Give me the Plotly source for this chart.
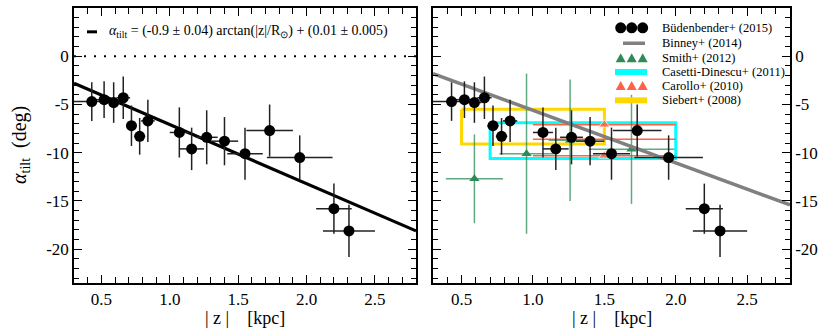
"""Disc tilt angle vs height above the plane: fit (left) and literature comparison (right)."""

import plotly.graph_objects as go

# Büdenbender+ (2015) measurements
z_kpc = [0.43, 0.52, 0.59, 0.66, 0.72, 0.78, 0.84, 1.07, 1.16, 1.27, 1.40, 1.55, 1.73, 1.95, 2.20, 2.31]
z_err = [0.13, 0.06, 0.05, 0.05, 0.04, 0.04, 0.05, 0.07, 0.09, 0.08, 0.10, 0.13, 0.17, 0.24, 0.13, 0.19]
alpha_tilt = [-4.7, -4.5, -4.8, -4.3, -7.2, -8.3, -6.7, -7.9, -9.6, -8.4, -8.8, -10.1, -7.7, -10.5, -15.8, -18.1]
alpha_err = [2.0, 1.9, 2.1, 2.2, 2.1, 1.9, 2.2, 2.6, 2.2, 2.8, 2.5, 2.7, 2.7, 2.3, 2.6, 2.7]

# fitted arctan relation (left panel)
fit_z = [0.3, 2.8]
fit_alpha = [-2.8, -18.1]

# Binney+ (2014)
binney_z = [0.3, 2.8]
binney_alpha = [-1.8, -15.4]

# Smith+ (2012)
smith_z = [0.59, 0.955, 1.26, 1.69]
smith_z_err = [0.2, 0.19, 0.15, 0.3]
smith_alpha = [-12.7, -10.1, -8.7, -9.65]
smith_alpha_err = [4.6, 8.3, 6.3, 5.65]

# Casetti-Dinescu+ (2011): z range and alpha range
casetti_z = [0.7, 2.0]
casetti_alpha = [-6.9, -10.6]

# Carollo+ (2010)
carollo_z = [1.5, 1.5, 1.5]
carollo_z_err = [0.5, 0.5, 0.5]
carollo_alpha = [-7.1, -8.6, -10.3]

# Siebert+ (2008): z range and alpha range
siebert_z = [0.5, 1.5]
siebert_alpha = [-5.5, -9.1]

# axes
x_ticks = [0.5, 1.0, 1.5, 2.0, 2.5]
x_ticktext = ['0.5', '1.0', '1.5', '2.0', '2.5']
y_ticks = [5, 0, -5, -10, -15, -20]
y_ticktext = ['5', '0', '-5', '-10', '-15', '-20']

legend_labels = ['Büdenbender+ (2015)', 'Binney+ (2014)', 'Smith+ (2012)',
                 'Casetti-Dinescu+ (2011)', 'Carollo+ (2010)', 'Siebert+ (2008)']

FONT = 'Liberation Serif, Times New Roman, serif'
W, H = 832, 333
L, R, T, B = 74, 42, 6, 50
PW, PH = W - L - R, H - T - B


def px_x(px):
    return (px - L) / PW


def px_y(py):
    return (H - B - py) / PH


def box(zr, ar):
    return [zr[0], zr[1], zr[1], zr[0], zr[0]], [ar[0], ar[0], ar[1], ar[1], ar[0]]


fig = go.Figure()

err_black = dict(type='data', color='#222', thickness=1.5, width=0)
err_green = dict(type='data', color='rgba(46,139,87,0.75)', thickness=1.5, width=0)

# ---- left panel ----
fig.add_trace(go.Scatter(
    x=fit_z, y=fit_alpha, mode='lines',
    line=dict(color='black', width=3.2),
    xaxis='x', yaxis='y', showlegend=False,
))
fig.add_trace(go.Scatter(
    x=z_kpc, y=alpha_tilt, mode='markers',
    marker=dict(color='black', size=11),
    error_x=dict(array=z_err, **err_black),
    error_y=dict(array=alpha_err, **err_black),
    xaxis='x', yaxis='y', showlegend=False,
))

# ---- right panel ----
bx, by = box(siebert_z, siebert_alpha)
fig.add_trace(go.Scatter(x=bx, y=by, mode='lines', line=dict(color='#ffd700', width=3),
                         xaxis='x2', yaxis='y2', showlegend=False))
bx, by = box(casetti_z, casetti_alpha)
fig.add_trace(go.Scatter(x=bx, y=by, mode='lines', line=dict(color='#00ffff', width=3),
                         xaxis='x2', yaxis='y2', showlegend=False))
fig.add_trace(go.Scatter(
    x=carollo_z, y=carollo_alpha, mode='markers',
    marker=dict(color='#ff6347', size=[10, 0, 10], symbol='triangle-up'),
    error_x=dict(type='data', array=carollo_z_err, color='#ff6347', thickness=1.5, width=0),
    xaxis='x2', yaxis='y2', showlegend=False,
))
fig.add_trace(go.Scatter(
    x=smith_z, y=smith_alpha, mode='markers',
    marker=dict(color='#2e8b57', size=9, symbol='triangle-up'),
    error_x=dict(array=smith_z_err, **err_green),
    error_y=dict(array=smith_alpha_err, **err_green),
    xaxis='x2', yaxis='y2', showlegend=False,
))
fig.add_trace(go.Scatter(
    x=binney_z, y=binney_alpha, mode='lines',
    line=dict(color='#808080', width=3.5),
    xaxis='x2', yaxis='y2', showlegend=False,
))
fig.add_trace(go.Scatter(
    x=z_kpc, y=alpha_tilt, mode='markers',
    marker=dict(color='black', size=11),
    error_x=dict(array=z_err, **err_black),
    error_y=dict(array=alpha_err, **err_black),
    xaxis='x2', yaxis='y2', showlegend=False,
))

# dotted zero line, left panel only
fig.add_shape(type='line', xref='x domain', x0=0, x1=1, yref='y', y0=0, y1=0,
              line=dict(color='black', width=2, dash='2px,8px'))

# ---- axes ----
tickfont = dict(family=FONT, size=17, color='black')
xcommon = dict(
    range=[0.3, 2.8], tickmode='array', tickvals=x_ticks, ticktext=x_ticktext,
    ticks='inside', ticklen=8, tickwidth=1.3, tickcolor='black',
    minor=dict(dtick=0.1, tick0=0, ticks='inside', ticklen=6, tickwidth=1.3, tickcolor='black', showgrid=False),
    showline=True, linecolor='black', linewidth=1.5, mirror='allticks',
    showgrid=False, zeroline=False, tickfont=tickfont,
)
ycommon = dict(
    range=[-23.5, 5], tickmode='array', tickvals=y_ticks, ticktext=y_ticktext,
    ticks='inside', ticklen=8, tickwidth=1.3, tickcolor='black',
    minor=dict(dtick=1, tick0=0, ticks='inside', ticklen=5, tickwidth=1.3, tickcolor='black', showgrid=False),
    showline=True, linecolor='black', linewidth=1.5, mirror='allticks',
    showgrid=False, zeroline=False, tickfont=tickfont,
)

split_l = px_x(416)
split_r = px_x(433)

fig.update_layout(
    width=W, height=H,
    margin=dict(l=L, r=R, t=T, b=B, pad=0),
    paper_bgcolor='white', plot_bgcolor='white',
    font=dict(family=FONT, color='black'),
    showlegend=False,
    xaxis=dict(domain=[0, split_l], anchor='y', **xcommon),
    yaxis=dict(domain=[0, 1], anchor='x', side='left', **ycommon),
    xaxis2=dict(domain=[split_r, 1], anchor='y2', **xcommon),
    yaxis2=dict(domain=[0, 1], anchor='x2', side='right', **ycommon),
)

# ---- axis titles ----
xtitle = '|\u00a0z\u00a0|\u00a0\u00a0\u00a0\u00a0[kpc]'
for cx in [(74 + 416) / 2, (433 + 790) / 2]:
    fig.add_annotation(text=xtitle, xref='paper', yref='paper', x=px_x(cx), y=px_y(318),
                       xanchor='center', yanchor='middle', showarrow=False,
                       font=dict(family=FONT, size=18, color='black'))
fig.add_annotation(
    text='<i>α</i><sub>tilt</sub>\u00a0\u00a0(deg)',
    xref='paper', yref='paper', x=px_x(20), y=px_y(144), textangle=-90,
    xanchor='center', yanchor='middle', showarrow=False,
    font=dict(family=FONT, size=20, color='black'),
)

# ---- left legend ----
fig.add_shape(type='line', xref='paper', yref='paper', x0=px_x(87), x1=px_x(97),
              y0=px_y(30), y1=px_y(30), line=dict(color='black', width=3))
fig.add_annotation(
    text='<i>α</i><sub>tilt</sub> = (-0.9 ± 0.04) arctan(|z|/R<sub>⊙</sub>) + (0.01 ± 0.005)',
    xref='paper', yref='paper', x=px_x(107), y=px_y(30), xanchor='left', yanchor='middle',
    showarrow=False, font=dict(family=FONT, size=14, color='black'),
)

# ---- right legend ----
rows = [26, 41.5, 56.5, 70.5, 84.5, 99]
sym_x = [620.7, 631.7, 642.7]
for i, label in enumerate(legend_labels):
    fig.add_annotation(text=label, xref='paper', yref='paper', x=px_x(660), y=px_y(rows[i]),
                       xanchor='left', yanchor='middle', showarrow=False,
                       font=dict(family=FONT, size=12.5, color='black'))

for sx in sym_x:
    fig.add_shape(type='circle', xref='paper', yref='paper', xsizemode='pixel', ysizemode='pixel',
                  xanchor=px_x(sx), yanchor=px_y(rows[0]), x0=-5.5, x1=5.5, y0=-5.5, y1=5.5,
                  fillcolor='black', line=dict(width=0))
    for r, col in [(rows[2], '#2e8b57'), (rows[4], '#ff6347')]:
        fig.add_shape(type='path', xref='paper', yref='paper', xsizemode='pixel', ysizemode='pixel',
                      xanchor=px_x(sx), yanchor=px_y(r), path='M -5,-4 L 5,-4 L 0,5 Z',
                      fillcolor=col, line=dict(width=0))

for r, col, w in [(rows[1], '#808080', 3.5), (rows[3], '#00ffff', 6), (rows[5], '#ffd700', 6)]:
    x0, x1 = (623, 645) if w < 5 else (615, 647)
    fig.add_shape(type='line', xref='paper', yref='paper', x0=px_x(x0), x1=px_x(x1),
                  y0=px_y(r), y1=px_y(r), line=dict(color=col, width=w))

fig.write_html("out.html", config={'displayModeBar': False},
               post_script="document.body.style.margin='0';")
